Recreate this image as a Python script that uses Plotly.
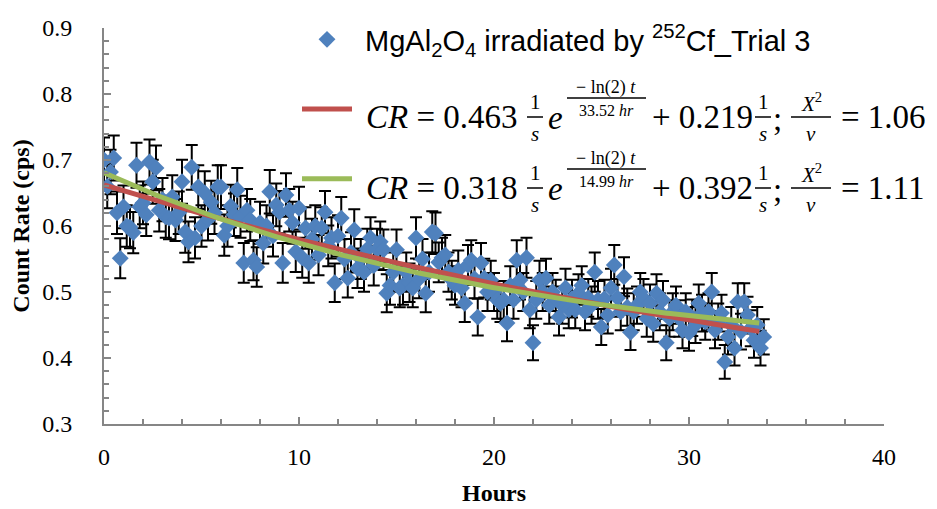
import numpy as np
import plotly.graph_objects as go

# count rate (cps), one point per 10 minute count
count_rate = [
    0.700, 0.660, 0.682, 0.703, 0.620, 0.551, 0.629, 0.600, 0.598, 0.590,
    0.692, 0.629, 0.635, 0.617, 0.697, 0.667, 0.688, 0.624, 0.640, 0.614,
    0.612, 0.644, 0.609, 0.620, 0.667, 0.591, 0.576, 0.689, 0.582, 0.659,
    0.600, 0.650, 0.610, 0.636, 0.620, 0.659, 0.659, 0.586, 0.600, 0.630,
    0.617, 0.655, 0.614, 0.544, 0.624, 0.609, 0.548, 0.538, 0.605, 0.574,
    0.600, 0.652, 0.585, 0.632, 0.621, 0.544, 0.647, 0.624, 0.605, 0.561,
    0.627, 0.552, 0.597, 0.544, 0.580, 0.600, 0.556, 0.597, 0.621, 0.570,
    0.582, 0.514, 0.585, 0.612, 0.550, 0.521, 0.560, 0.594, 0.536, 0.550,
    0.530, 0.565, 0.582, 0.540, 0.565, 0.576, 0.564, 0.498, 0.510, 0.530,
    0.564, 0.506, 0.510, 0.530, 0.514, 0.506, 0.582, 0.520, 0.550, 0.498,
    0.530, 0.591, 0.589, 0.545, 0.552, 0.556, 0.530, 0.518, 0.510, 0.533,
    0.506, 0.483, 0.541, 0.548, 0.520, 0.462, 0.544, 0.521, 0.500, 0.518,
    0.500, 0.488, 0.483, 0.488, 0.453, 0.510, 0.488, 0.548, 0.518, 0.500,
    0.552, 0.473, 0.423, 0.488, 0.518, 0.500, 0.521, 0.480, 0.500, 0.490,
    0.462, 0.480, 0.506, 0.473, 0.490, 0.473, 0.498, 0.510, 0.470, 0.491,
    0.480, 0.530, 0.488, 0.447, 0.490, 0.465, 0.506, 0.541, 0.491, 0.470,
    0.523, 0.477, 0.439, 0.470, 0.480, 0.500, 0.491, 0.460, 0.483, 0.452,
    0.498, 0.470, 0.488, 0.423, 0.460, 0.470, 0.480, 0.460, 0.442, 0.470,
    0.438, 0.461, 0.450, 0.483, 0.468, 0.455, 0.470, 0.500, 0.442, 0.455,
    0.468, 0.394, 0.432, 0.450, 0.415, 0.485, 0.440, 0.485, 0.465, 0.445,
    0.427, 0.450, 0.415, 0.432,
]
count_time = 600.0  # s per point
hours = np.arange(len(count_rate)) * count_time / 3600.0
cr = np.array(count_rate)
cr_err = np.sqrt(cr / count_time)  # poisson

# fits: CR = A exp(-ln2 (t+delay)/T) + B
fit_amp = [0.463, 0.318]
fit_half = [33.52, 14.99]
fit_base = [0.219, 0.392]
fit_chi = [1.06, 1.11]
fit_colors = ['#C0504D', '#9BBB59']
t_delay = 2.1
t_fit = np.linspace(0, 33.6, 200)

serif = 'Liberation Serif'

fig = go.Figure()
fig.add_trace(go.Scatter(
    x=hours, y=cr, mode='markers',
    name='\u00a0MgAl<sub>2</sub>O<sub>4</sub> irradiated by <sup>252</sup>Cf_Trial 3',
    marker=dict(symbol='diamond', size=13, color='#4F81BD'),
    error_y=dict(type='data', array=cr_err, color='black', thickness=2, width=6),
    legendgroup='a'))
for i in range(2):
    y = fit_amp[i]*np.exp(-np.log(2)*(t_fit+t_delay)/fit_half[i])+fit_base[i]
    fig.add_trace(go.Scatter(x=t_fit, y=y, mode='lines', name='\u00a0',
                             line=dict(color=fit_colors[i], width=5),
                             legendgroup='f%d' % i))

# page body has an 8px margin, so the figure is 8px smaller than the window
W, H, OFF = 937 - 8, 509 - 8, 8
X0, X1, Y0, Y1 = 104, 884, 28, 424   # plot area in window pixels
def px(x, y):
    return (x-X0)/(X1-X0), (Y1-y)/(Y1-Y0)

annos = []
shapes = []
def txt(x, y, s, size, anchor='left'):
    xx, yy = px(x, y)
    annos.append(dict(x=xx, y=yy, xref='paper', yref='paper', text=s, showarrow=False,
                      xanchor=anchor, yanchor='middle',
                      font=dict(family=serif, size=size, color='black')))
def bar(xa, xb, y):
    a = px(xa, y)
    b = px(xb, y)
    shapes.append(dict(type='line', xref='paper', yref='paper', x0=a[0], x1=b[0],
                       y0=a[1], y1=b[1], line=dict(color='black', width=1.5)))
def frac(xc, y, top, bot, w, size=21):
    txt(xc, y-15, top, size, 'center')
    bar(xc-w/2, xc+w/2, y)
    txt(xc, y+17, bot, size, 'center')

for i, yc in enumerate([117, 188]):
    txt(364, yc, '<i>CR</i> = %.3f' % fit_amp[i], 33)
    frac(535, yc, '1', '<i>s</i>', 16)
    txt(546, yc+1, '<i>e</i>', 33)
    txt(606, yc-30, '\u2212 ln(2) <i>t</i>', 18, 'center')
    bar(567, 646, yc-19)
    txt(606, yc-7, '%.2f <i>hr</i>' % fit_half[i], 16, 'center')
    txt(650, yc, '+ %.3f' % fit_base[i], 33)
    frac(763, yc, '1', '<i>s</i>', 16)
    txt(771, yc+2, ';', 33)
    frac(811, yc, '<i>X</i><sup>2</sup>', '<i>\u03bd</i>', 40)
    txt(839, yc, '= %.2f' % fit_chi[i], 33)

axis_style = dict(showline=True, linecolor='#868686', linewidth=2, showgrid=False,
                  zeroline=False, ticks='inside', ticklen=7, tickcolor='#868686',
                  tickwidth=1.5, automargin=False,
                  tickfont=dict(family=serif, size=24, color='black'))

fig.update_layout(
    width=W, height=H,
    margin=dict(l=X0-OFF, r=W-(X1-OFF), t=Y0-OFF, b=H-(Y1-OFF), autoexpand=False),
    plot_bgcolor='white', paper_bgcolor='white',
    xaxis=dict(range=[0, 40], dtick=10,
               minor=dict(dtick=2, ticks='inside', ticklen=5, tickcolor='#868686'),
               title=dict(text='<b>Hours</b>', font=dict(family=serif, size=24, color='black'),
                          standoff=15),
               ticklabelstandoff=10, **axis_style),
    yaxis=dict(range=[0.3, 0.9], dtick=0.1, tickformat='.1f',
               minor=dict(dtick=0.02, ticks='inside', ticklen=5, tickcolor='#868686'),
               title=dict(text='<b>Count Rate (cps)</b>', font=dict(family=serif, size=24, color='black'),
                          standoff=10),
               ticklabelstandoff=25, **axis_style),
    legend=dict(x=px(297, 0)[0], y=px(0, 14)[1], xanchor='left', yanchor='top',
                bgcolor='rgba(0,0,0,0)', tracegroupgap=29, itemwidth=50,
                font=dict(family='Liberation Sans', size=29, color='black')),
    showlegend=True,
    annotations=annos, shapes=shapes,
)

fig.write_html('out.html')
